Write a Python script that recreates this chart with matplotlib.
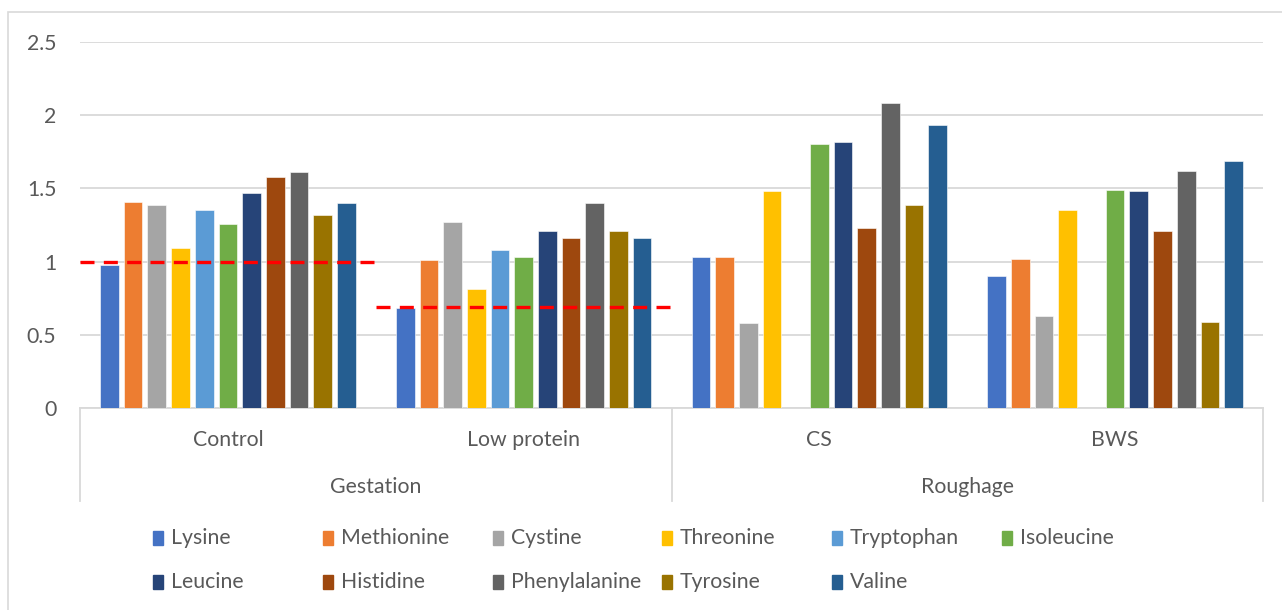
import numpy as np
import matplotlib as mpl
import matplotlib.pyplot as plt
from matplotlib.patches import Rectangle
import matplotlib.transforms as mtransforms

plt.rcParams['font.family'] = ['Lato', 'DejaVu Sans']

categories = ["Control", "Low protein", "CS", "BWS"]
groups = ["Gestation", "Roughage"]
amino_acids = ["Lysine", "Methionine", "Cystine", "Threonine", "Tryptophan", "Isoleucine",
               "Leucine", "Histidine", "Phenylalanine", "Tyrosine", "Valine"]
colors = ["#4472C4", "#ED7D31", "#A5A5A5", "#FFC000", "#5B9BD5", "#70AD47",
          "#264478", "#9E480E", "#636363", "#997300", "#255E91"]

# one list per amino acid: Control, Low protein, CS, BWS
lysine = [0.98, 0.68, 1.03, 0.90]
methionine = [1.41, 1.01, 1.03, 1.02]
cystine = [1.39, 1.27, 0.58, 0.63]
threonine = [1.09, 0.81, 1.48, 1.35]
tryptophan = [1.35, 1.08, np.nan, np.nan]
isoleucine = [1.26, 1.03, 1.80, 1.49]
leucine = [1.47, 1.21, 1.82, 1.48]
histidine = [1.58, 1.16, 1.23, 1.21]
phenylalanine = [1.61, 1.40, 2.08, 1.62]
tyrosine = [1.32, 1.21, 1.39, 0.59]
valine = [1.40, 1.16, 1.93, 1.69]
values = [lysine, methionine, cystine, threonine, tryptophan, isoleucine,
          leucine, histidine, phenylalanine, tyrosine, valine]

# requirement reference lines (Control, Low protein)
reference = [1.0, 0.69]

W, H = 1282, 610
fig = plt.figure(figsize=(W / 100, H / 100), dpi=100)
ax = fig.add_axes([80 / W, 1 - 408 / H, (1263 - 80) / W, (408 - 42) / H])

txt = "#595959"
grid = "#D9D9D9"
fs = 15.3

# chart frame
fig.patches.append(Rectangle((8 / W, -0.1), 1.2, 1 - 12 / H + 0.1, transform=fig.transFigure,
                             fill=False, edgecolor=grid, lw=1.2))

x = np.arange(len(categories))
step = 0.0801
width = 0.0632
for j, (name, vals, c) in enumerate(zip(amino_acids, values, colors)):
    ax.bar(x + (j - 5) * step, vals, width, color=c, label=name, zorder=3,
           edgecolor="white", linewidth=0.4)

for i, r in enumerate(reference):
    ax.hlines(r, i - 0.5, i + 0.5, colors="#FF0000", linewidth=2.4,
              linestyles=(0, (4.2, 2.8)), zorder=4)

ax.set_xlim(-0.5, len(categories) - 0.5)
ax.set_ylim(0, 2.5)
ax.set_yticks([0, 0.5, 1, 1.5, 2, 2.5])
ax.set_yticklabels(["0", "0.5", "1", "1.5", "2", "2.5"])
ax.yaxis.grid(True, color=grid, linewidth=1.3, zorder=0)
ax.set_axisbelow(True)
ax.tick_params(axis="y", length=0, pad=17, labelsize=fs, labelcolor=txt)
ax.tick_params(axis="x", length=0, labelbottom=False)
for s in ["top", "right", "left"]:
    ax.spines[s].set_visible(False)
ax.spines["bottom"].set_color(grid)
ax.spines["bottom"].set_linewidth(1.3)

# two-level category axis
trans = mtransforms.blended_transform_factory(ax.transData, ax.transAxes)
for xi, cat in zip(x, categories):
    ax.text(xi, -32 / 366, cat, transform=trans, ha="center", va="center",
            fontsize=fs, color=txt)
for gi, g in enumerate(groups):
    ax.text(gi * 2 + 0.5, -79 / 366, g, transform=trans, ha="center", va="center",
            fontsize=fs, color=txt)
for xb in [-0.5, 1.5, 3.5]:
    ax.plot([xb, xb], [0, -93 / 366], transform=trans, color=grid, lw=1.3, clip_on=False)

# legend laid out as the two-row grid
col_x = [153, 323, 493, 662, 832, 1002]
row_y = [538, 582]
for j, (name, c) in enumerate(zip(amino_acids, colors)):
    cx = col_x[j % 6]
    cy = row_y[j // 6]
    fig.patches.append(Rectangle((cx / W, 1 - (cy + 7) / H), 10 / W, 14 / H,
                                 transform=fig.transFigure, color=c))
    fig.text((cx + 18) / W, 1 - cy / H, name, ha="left", va="center",
             fontsize=fs, color=txt)

fig.savefig("out.png", dpi=100)
